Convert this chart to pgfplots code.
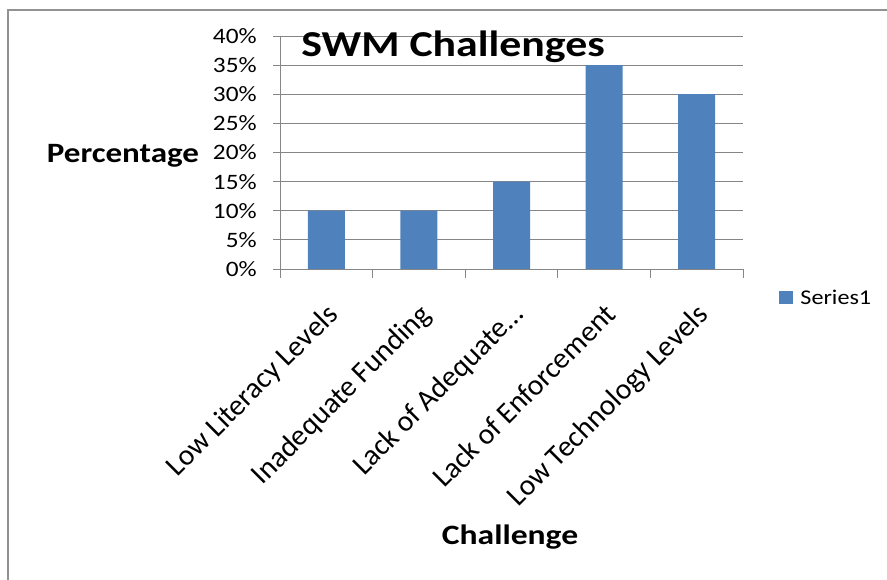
\documentclass[border=0pt]{standalone}
\usepackage{pgfplots}
\pgfplotsset{compat=1.18}
\usepackage{fontspec}
\setmainfont{Carlito}
\definecolor{barblue}{HTML}{4F81BD}
\definecolor{gridgray}{HTML}{868686}
\begin{document}
\begin{tikzpicture}[x=1pt,y=1pt]
\path[use as bounding box] (0,0) rectangle (887,580);
\draw[gridgray!90,line width=1.5pt] (8,-2) -- (8,570) -- (889,570);
\begin{axis}[
  at={(280pt,311pt)}, anchor=south west,
  scale only axis, width=463pt, height=233pt,
  xmin=0, xmax=5, ymin=0, ymax=40,
  axis x line*=bottom, axis y line*=left,
  axis line style={gridgray, line width=0.8pt},
  ytick={0,5,...,40},
  yticklabel={\pgfmathprintnumber{\tick}\%},
  ymajorgrids, major grid style={gridgray, line width=0.8pt},
  tick align=outside,
  major tick length=7pt,
  minor tick length=9pt,
  tick style={gridgray, line width=0.8pt},
  xtick={0.5,1.5,...,4.5},
  xticklabels={Low Literacy Levels, Inadequate Funding, Lack of Adequate\ldots, Lack of Enforcement, Low Technology Levels},
  minor xtick={0,1,...,5},
  major x tick style={draw=none},
  /pgf/number format/assume math mode=true,
  yticklabel style={font=\fontsize{22}{24}\selectfont, xscale=1.15, anchor=east, inner sep=0pt, xshift=-14pt},
  xticklabel style={font=\fontsize{29.5}{32}\selectfont, rotate=45, anchor=north east, inner sep=0pt, yshift=-17pt, xshift=-19pt},
  legend style={at={(1.18,-0.124)}, anchor=center, draw=none, fill=none,
    font=\fontsize{21}{24}\selectfont, inner sep=0pt,
    legend cell align=left},
  legend image code/.code={\fill[barblue] (0pt,-6pt) rectangle (14pt,7pt);},
  clip=false,
]
\addplot[ybar, bar width=37pt, fill=barblue, draw=none] coordinates {
  (0.5,10) (1.5,10) (2.5,15) (3.5,35) (4.5,30)
};
\addlegendentry{\hspace{5pt}\scalebox{1.15}[1]{Series1}}
\end{axis}
\node[font=\bfseries\fontsize{36.5}{40}\selectfont, xscale=1.2, anchor=base] at (453,523) {SWM Challenges};
\node[font=\bfseries\fontsize{28}{32}\selectfont, xscale=1.18, anchor=base] at (123,417) {Percentage};
\node[font=\bfseries\fontsize{28}{32}\selectfont, xscale=1.2, anchor=base] at (510,35) {Challenge};
\end{tikzpicture}
\end{document}
